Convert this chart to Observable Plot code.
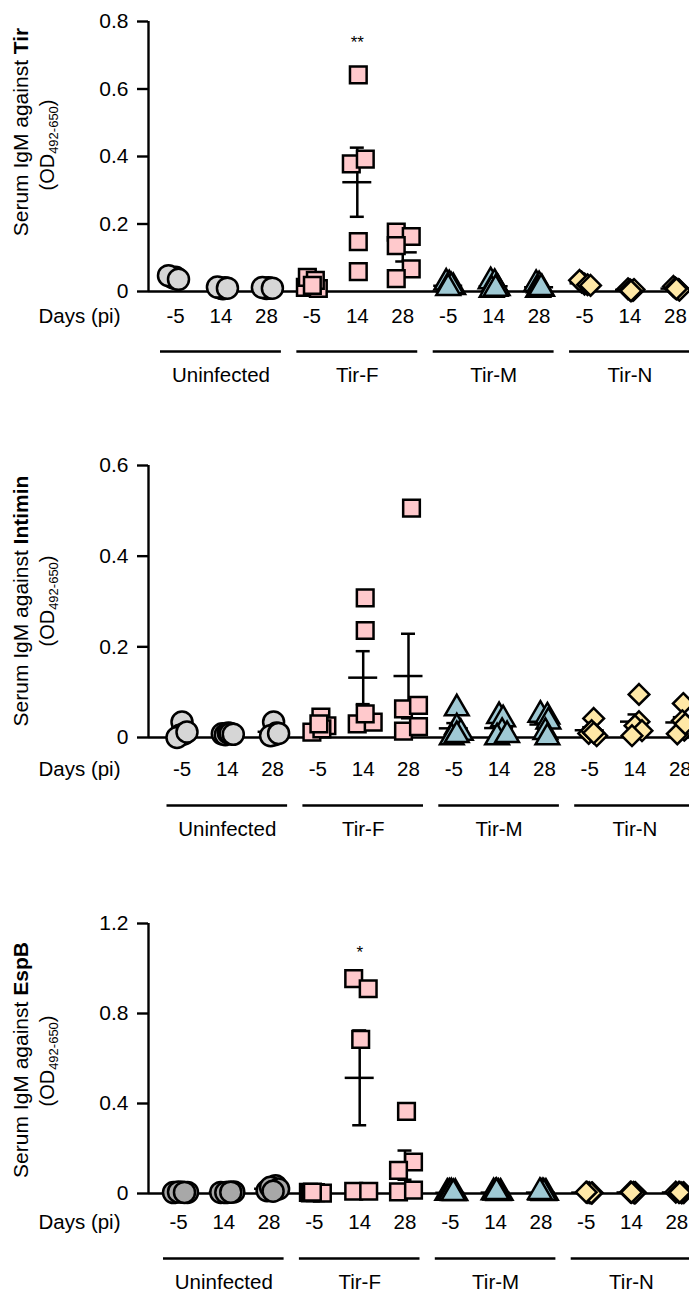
<!DOCTYPE html>
<html>
<head>
<meta charset="utf-8">
<script src="https://cdn.jsdelivr.net/npm/d3@7"></script>
<script src="https://cdn.jsdelivr.net/npm/@observablehq/plot@0.6"></script>
<style>
  html, body { margin: 0; padding: 0; background: #fff; overflow: hidden; }
  body { font-family: "Liberation Sans", Arial, sans-serif; }
  #chart svg { display: block; }
</style>
</head>
<body>
<div id="chart"></div>
<script>
// ---------- data ----------
const groups = ["Uninfected", "Tir-F", "Tir-M", "Tir-N"];
const days = ["-5", "14", "28"];

// Serum IgM against Tir — 12 sets (group × day), 5 mice each
const tirValues = [
  [0.040, 0.042, 0.038, 0.047, 0.036],
  [0.010, 0.008, 0.011, 0.013, 0.010],
  [0.009, 0.011, 0.010, 0.012, 0.010],
  [0.012, 0.009, 0.042, 0.033, 0.018],
  [0.642, 0.378, 0.392, 0.148, 0.059],
  [0.176, 0.163, 0.136, 0.067, 0.038],
  [0.026, 0.021, 0.013, 0.015, 0.010],
  [0.030, 0.025, 0.010, 0.005, 0.008],
  [0.022, 0.018, 0.008, 0.005, 0.010],
  [0.028, 0.022, 0.033, 0.020, 0.018],
  [0.008, 0.005, 0.003, 0.006, 0.002],
  [0.015, 0.010, 0.006, 0.004, 0.008]
];
const tirJitter = [
  [-2, 0, 1, -7, 3], [0, 2, 4, -3.5, 6.5], [0, 2, 3, -4, 6],
  [-6.5, 6.5, -4.5, 3.5, 0.5], [1, -6, 8, 1, 1], [-6.5, 8.5, -6.5, 8.5, -6.5],
  [-2, 1, 5, 3, 0], [-3, 1, 4, -2, 2], [-3, 0, 3, -1, 2],
  [-3, 0, -5, 3, 6], [-2, 0, 3, 4, 1], [-2, 0, 3, 4, 1]
];

// Serum IgM against Intimin
const intiminValues = [
  [0.034, 0.005, 0.008, 0.000, 0.012],
  [0.008, 0.006, 0.010, 0.009, 0.007],
  [0.034, 0.006, 0.010, 0.004, 0.009],
  [0.012, 0.045, 0.026, 0.019, 0.030],
  [0.308, 0.236, 0.030, 0.034, 0.052],
  [0.506, 0.063, 0.071, 0.014, 0.024],
  [0.064, 0.022, 0.000, 0.010, 0.005],
  [0.047, 0.040, 0.012, 0.000, 0.005],
  [0.050, 0.046, 0.035, 0.012, 0.000],
  [0.042, 0.009, 0.004, 0.015, 0.010],
  [0.095, 0.035, 0.026, 0.015, 0.004],
  [0.075, 0.037, 0.016, 0.008, 0.030]
];
const intiminJitter = [
  [0, -2, 2, -5, 5], [-5, -2, 1, 3, 6], [1, 2, 4, -2, 6],
  [-6, 3, 9, 4, 1], [2, 2, -6, 10, 2], [3, -5, 10, -5, 10],
  [3, 3, -2, 7, 3], [0, 4, 3, -2, 8], [-4, 3, 4, 1, 3],
  [4, -1, 7, 2, 4], [4, 4, 0, 7, -3], [3, 2, 4, -3, 5]
];

// Serum IgM against EspB
const espbValues = [
  [0.004, 0.006, 0.005, 0.007, 0.005],
  [0.005, 0.006, 0.007, 0.004, 0.006],
  [0.012, 0.035, 0.028, 0.020, 0.010],
  [0.005, 0.003, 0.004, 0.002, 0.006],
  [0.955, 0.910, 0.685, 0.010, 0.010],
  [0.365, 0.140, 0.103, 0.007, 0.015],
  [0.003, 0.004, 0.002, 0.005, 0.001],
  [0.005, 0.004, 0.003, 0.002, 0.006],
  [0.004, 0.005, 0.003, 0.002, 0.006],
  [0.005, 0.003, 0.004, 0.002, 0.006],
  [0.006, 0.004, 0.005, 0.003, 0.005],
  [0.006, 0.004, 0.005, 0.003, 0.005]
];
const espbJitter = [
  [-5, 4, 9, 0, 6], [-3, 5, 10, 2, 7], [-2, 6.5, 1.5, 9.5, 4],
  [-6, -4, 1, 8, -2], [-6, 8.5, 1, -6, 9], [1.5, 8.5, -6.5, -6.5, 8.5],
  [-3, -1, 5, 1, 3], [-2, 0, 5, 3, 1], [0, 2, 5, 3, -1],
  [1, 6, 3, 5, 0], [-1, 4, 2, 3, 0], [-1, 7, 2, 5, 3]
];

const tirTicks = [0, 0.2, 0.4, 0.6, 0.8];
const intiminTicks = [0, 0.2, 0.4, 0.6];
const espbTicks = [0, 0.4, 0.8, 1.2];

const tirSig = {set: 4, label: "**"};
const espbSig = {set: 4, label: "*"};

// ---------- styling ----------
const FONT = '"Liberation Sans", Arial, Helvetica, sans-serif';
const symbolNames = ["circle", "square", "triangle", "diamond2"];
const symbolR = [10.5, 9.4, 8.8, 9.3];
const groupFill = ["#d6d6d6", "#ffc9cc", "#9fc9d4", "#ffe8a6"];

function fmt(d) { return d === 0 ? "0" : d3.format(".1f")(d); }

function panel(cfg) {
  const {values, jitter, antigen, yMax, yTicks, sig, L, circleFill} = cfg;
  const W = 689, axisX = 148;
  const xMin = (axisX - L.start) / L.step, xMax = (W - L.start) / L.step;
  const fills = groupFill.slice(); fills[0] = circleFill;

  const rows = [];
  values.forEach((set, s) => set.forEach((v, k) =>
    rows.push({g: Math.floor(s / 3), s, v, x: s + jitter[s][k] / L.step})));
  const stats = values.map((set, s) => {
    const m = d3.mean(set), se = d3.deviation(set) / Math.sqrt(set.length);
    return {i: s, mean: m, lo: m - se, hi: m + se};
  });
  const cats = d3.range(12).map(i => ({i, day: days[i % 3]}));
  const grp = groups.map((name, g) => ({g, name}));
  const hw = 14.5 / L.step, cw = 7 / L.step, gw = 15 / L.step;

  const marks = [
    Plot.ruleY([0], {strokeWidth: 2.4}),
    Plot.ruleX([xMin], {y1: 0, y2: yMax, strokeWidth: 2.4}),
    Plot.axisY(yTicks, {tickSize: 11, tickPadding: 9, strokeWidth: 2.4, fontSize: 21, tickFormat: fmt, label: null}),
    Plot.ruleX(stats, {x: "i", y1: "lo", y2: "hi", strokeWidth: 2.5}),
    Plot.ruleY(stats, {y: "mean", x1: d => d.i - hw, x2: d => d.i + hw, strokeWidth: 2.5}),
    Plot.ruleY(stats, {y: "hi", x1: d => d.i - cw, x2: d => d.i + cw, strokeWidth: 2.5}),
    Plot.ruleY(stats, {y: "lo", x1: d => d.i - cw, x2: d => d.i + cw, strokeWidth: 2.5}),
    ...groups.map((_, g) => Plot.dot(rows.filter(r => r.g === g), {
      x: "x", y: "v", symbol: symbolNames[g], r: symbolR[g],
      fill: fills[g], stroke: "black", strokeWidth: 2.5
    })),
    Plot.text(cats, {x: "i", text: "day", frameAnchor: "bottom", dy: L.tickDy, fontSize: 20.5}),
    Plot.text(["Days (pi)"], {text: d => d, frameAnchor: "bottom-left", textAnchor: "end", dx: -28, dy: L.tickDy, fontSize: 20.5}),
    Plot.ruleY(grp, {y: () => 0, x1: d => d.g * 3 - gw, x2: d => d.g * 3 + 2 + gw, dy: L.lineDy, strokeWidth: 2.5}),
    Plot.text(grp, {x: d => d.g * 3 + 1, text: "name", frameAnchor: "bottom", dy: L.labelDy, fontSize: 20.5})
  ];
  if (sig) {
    marks.push(Plot.text([sig], {x: d => d.set, y: d => d3.max(values[d.set]), text: "label", dy: L.sigDy, fontSize: 17}));
  }

  const plot = Plot.plot({
    width: W, height: L.height,
    marginLeft: axisX, marginRight: 0, marginTop: L.marginTop, marginBottom: L.marginBottom,
    style: {fontFamily: FONT, fontSize: "20px", color: "black", background: "white", overflow: "visible"},
    x: {domain: [xMin, xMax], axis: null},
    y: {domain: [0, yMax], axis: null},
    marks
  });

  // y-axis title (two lines, bold antigen, subscript wavelength)
  const ys = plot.scale("y");
  const cy = (ys.apply(0) + ys.apply(yMax)) / 2;
  const svg = d3.select(plot);
  const t1 = svg.append("text")
    .attr("transform", `translate(28,${cy + L.title1Shift}) rotate(-90)`)
    .attr("text-anchor", "middle").attr("fill", "black")
    .style("font-family", FONT).style("font-size", "21px");
  t1.append("tspan").text("Serum IgM against ");
  t1.append("tspan").attr("font-weight", "bold").text(antigen);
  const t2 = svg.append("text")
    .attr("transform", `translate(54,${cy + L.title2Shift}) rotate(-90)`)
    .attr("text-anchor", "middle").attr("fill", "black")
    .style("font-family", FONT).style("font-size", "20px");
  t2.append("tspan").text("(OD");
  t2.append("tspan").attr("dy", 4).style("font-size", "13px").text("492-650");
  t2.append("tspan").attr("dy", -4).text(")");
  return plot;
}

const chart = document.getElementById("chart");
chart.append(panel({
  values: tirValues, jitter: tirJitter, antigen: "Tir", yMax: 0.8, yTicks: tirTicks, sig: tirSig,
  circleFill: "#d6d6d6",
  L: {height: 433, marginTop: 21, marginBottom: 142, start: 175, step: 45.45,
      tickDy: 31, lineDy: 60, labelDy: 90, sigDy: -32, title1Shift: -24, title2Shift: -11}
}));
chart.append(panel({
  values: intiminValues, jitter: intiminJitter, antigen: "Intimin", yMax: 0.6, yTicks: intiminTicks, sig: null,
  circleFill: "#d6d6d6",
  L: {height: 433, marginTop: 32, marginBottom: 129, start: 181.5, step: 45.3,
      tickDy: 38, lineDy: 68, labelDy: 98, sigDy: 0, title1Shift: 0, title2Shift: 0}
}));
chart.append(panel({
  values: espbValues, jitter: espbJitter, antigen: "EspB", yMax: 1.2, yTicks: espbTicks, sig: espbSig,
  circleFill: "#a8a8a8",
  L: {height: 433, marginTop: 57, marginBottom: 106, start: 178, step: 45.3,
      tickDy: 35, lineDy: 65, labelDy: 95, sigDy: -26.5, title1Shift: 2, title2Shift: 3}
}));
</script>
</body>
</html>
